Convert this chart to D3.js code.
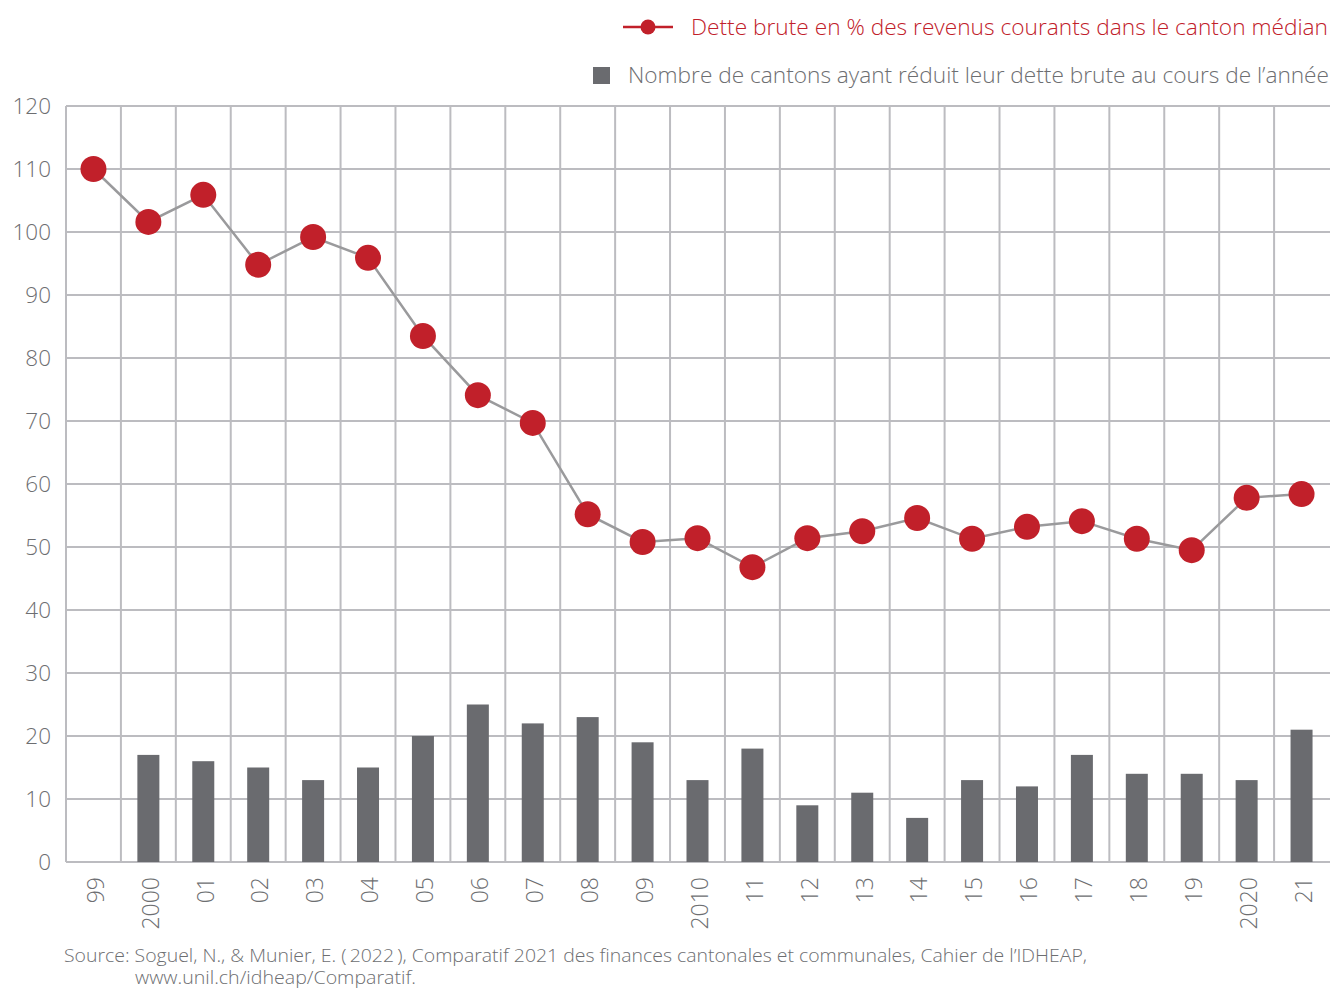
<!DOCTYPE html>
<html><head><meta charset="utf-8">
<script src="https://cdn.jsdelivr.net/npm/d3@7"></script>
<style>
body{margin:0;background:#fff;}
text{font-family:"Open Sans","Noto Sans",sans-serif;font-weight:300;}
</style></head>
<body><svg id="c" width="1330" height="990"></svg>
<script>
const years = ["99","2000","01","02","03","04","05","06","07","08","09","2010","11","12","13","14","15","16","17","18","19","2020","21"];
const debtRatio = [110,101.6,105.9,94.8,99.2,95.9,83.5,74.1,69.7,55.2,50.8,51.4,46.8,51.4,52.5,54.6,51.3,53.2,54.1,51.3,49.5,57.8,58.4];
const cantonsReduced = [null,17,16,15,13,15,20,25,22,23,19,13,18,9,11,7,13,12,17,14,14,13,21];
const yTicks = [0,10,20,30,40,50,60,70,80,90,100,110,120];
const legendLine = "Dette brute en % des revenus courants dans le canton médian";
const legendBar = "Nombre de cantons ayant réduit leur dette brute au cours de l\u2019année";
const sourceLines = ["Source: Soguel, N., & Munier, E. (\u20092022\u2009), Comparatif 2021 des finances cantonales et communales, Cahier de l\u2019IDHEAP,","www.unil.ch/idheap/Comparatif."];

const svg = d3.select("#c");
const L = 66, R = 1329, T = 106, B = 862;
const x = d3.scaleBand().domain(years).range([L, R]).paddingInner(0).paddingOuter(0);
const y = d3.scaleLinear().domain([0,120]).range([B, T]);
const grid = "#bcbcc0", txt = "#6d6e71", red = "#c1202a", barC = "#6a6b6f";

svg.append("g").selectAll("line").data(yTicks).join("line")
  .attr("x1", L).attr("x2", 1330).attr("y1", d=>y(d)).attr("y2", d=>y(d))
  .attr("stroke", grid).attr("stroke-width", 2);
svg.append("g").selectAll("line").data(years).join("line")
  .attr("x1", d=>x(d)).attr("x2", d=>x(d)).attr("y1", T).attr("y2", B)
  .attr("stroke", grid).attr("stroke-width", 2);

svg.append("g").selectAll("text").data(yTicks).join("text")
  .attr("x", 51).attr("y", d=>y(d)).attr("dy","0.36em").attr("text-anchor","end")
  .attr("fill", txt).attr("font-size", 22.5).text(d=>d);

svg.append("g").selectAll("text").data(years).join("text")
  .attr("transform", d=>`translate(${x(d)+x.bandwidth()/2+2},877) rotate(-90)`)
  .attr("dy","0.36em").attr("text-anchor","end")
  .attr("fill", txt).attr("font-size", 23).text(d=>d);

const bw = 22;
svg.append("g").selectAll("rect").data(years.map((d,i)=>({k:d,v:cantonsReduced[i]})).filter(d=>d.v!=null)).join("rect")
  .attr("x", d=>x(d.k)+x.bandwidth()/2-bw/2).attr("width", bw)
  .attr("y", d=>y(d.v)).attr("height", d=>y(0)-y(d.v)).attr("fill", barC);

const pts = years.map((d,i)=>({k:d,v:debtRatio[i]}));
svg.append("path").datum(pts)
  .attr("d", d3.line().x(d=>x(d.k)+x.bandwidth()/2).y(d=>y(d.v)))
  .attr("fill","none").attr("stroke","#9a9a9c").attr("stroke-width",2.5);
svg.append("g").selectAll("circle").data(pts).join("circle")
  .attr("cx", d=>x(d.k)+x.bandwidth()/2).attr("cy", d=>y(d.v)).attr("r", 13)
  .attr("fill", red);

const lg = svg.append("g");
lg.append("line").attr("x1",623).attr("x2",673).attr("y1",27).attr("y2",27).attr("stroke",red).attr("stroke-width",2.5);
lg.append("circle").attr("cx",648).attr("cy",27).attr("r",7.5).attr("fill",red);
lg.append("text").attr("x",691).attr("y",27).attr("dy","0.36em")
  .attr("textLength",637).attr("lengthAdjust","spacingAndGlyphs")
  .attr("fill",red).attr("font-size",22.5).text(legendLine);
lg.append("rect").attr("x",593).attr("y",67).attr("width",17).attr("height",17).attr("fill",barC);
lg.append("text").attr("x",628).attr("y",75).attr("dy","0.36em")
  .attr("textLength",701).attr("lengthAdjust","spacingAndGlyphs")
  .attr("fill",txt).attr("font-size",22.5).text(legendBar);

svg.append("text").attr("x",64).attr("y",962).attr("fill",txt).attr("font-size",17.5)
  .attr("textLength",1023).attr("lengthAdjust","spacingAndGlyphs").text(sourceLines[0]);
svg.append("text").attr("x",135).attr("y",984).attr("fill",txt).attr("font-size",17.5)
  .attr("textLength",281).attr("lengthAdjust","spacingAndGlyphs").text(sourceLines[1]);
</script></body></html>
